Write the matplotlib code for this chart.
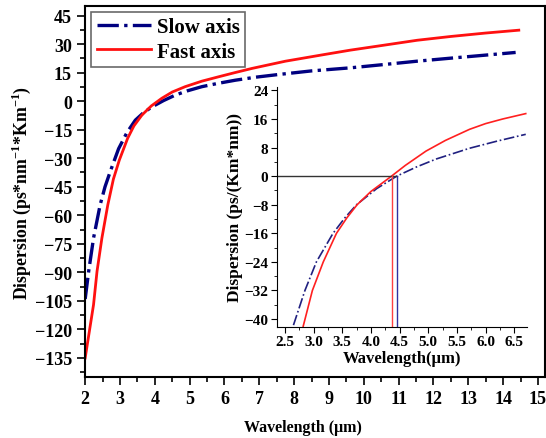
import matplotlib
matplotlib.use("Agg")
import matplotlib.pyplot as plt
from matplotlib.ticker import MultipleLocator

plt.rcParams['font.family'] = ['Liberation Serif', 'DejaVu Serif']
plt.rcParams['font.weight'] = 'bold'
plt.rcParams['mathtext.fontset'] = 'custom'
plt.rcParams['mathtext.rm'] = 'Liberation Serif:bold'
plt.rcParams['mathtext.bf'] = 'Liberation Serif:bold'

# 主图数据
fast_wl = [2.0, 2.12, 2.24, 2.34, 2.48, 2.65, 2.81, 2.98, 3.22, 3.4, 3.63, 3.9,
           4.2, 4.5, 4.87, 5.35, 5.83, 6.3, 6.79, 7.75, 8.8, 9.61, 10.5, 11.53,
           12.5, 13.5, 14.45]
fast_d = [-135, -121, -107, -89.5, -72, -54.5, -41, -31, -19.5, -13, -7.3, -2.5,
          1.5, 4.8, 7.6, 10.5, 12.8, 15, 17.2, 21, 24.3, 26.8, 29.2, 32,
          34, 35.8, 37.3]
slow_wl = [2.0, 2.1, 2.24, 2.43, 2.57, 2.72, 2.96, 3.2, 3.44, 3.68, 3.92, 4.25,
           4.59, 4.95, 5.35, 5.8, 6.31, 6.9, 7.55, 8.5, 9.61, 10.5, 11.53, 12.5,
           13.5, 14.36]
slow_d = [-104, -89.5, -72, -54.5, -45, -37, -25, -16.5, -10, -6, -3, 0.3,
          3.2, 5.5, 7.6, 9.3, 11, 12.6, 14, 15.9, 17.5, 19.1, 21, 22.6,
          24.2, 25.6]

# 插图数据
in_fast_wl = [2.82, 2.98, 3.17, 3.40, 3.58, 3.76, 4.0, 4.36, 4.6, 4.96, 5.3,
              5.72, 6.0, 6.3, 6.7]
in_fast_d = [-42, -32, -24, -16, -11.7, -8, -4.3, 0, 3.0, 7, 10, 13.1, 14.7,
             16, 17.5]
in_slow_wl = [2.65, 2.85, 3.05, 3.34, 3.55, 3.75, 4.1, 4.45, 4.8, 5.14, 5.72,
              6.2, 6.7]
in_slow_d = [-41.7, -32, -24, -16, -11.6, -8, -3.5, 0, 2.6, 4.8, 7.8, 9.8, 11.7]
zero_fast = 4.36
zero_slow = 4.45

fig = plt.figure(figsize=(5.46, 4.39), dpi=100)
ax = fig.add_axes([0.156, 0.139, 0.842, 0.845])

ax.plot(slow_wl, slow_d, color='#000080', lw=2.4, ls='-.', label='Slow axis')
ax.plot(fast_wl, fast_d, color='#ff1010', lw=2.0, ls='-', label='Fast axis')

ax.set_xlim(2, 15.2)
ax.set_ylim(-145, 50)
ax.xaxis.set_major_locator(MultipleLocator(1))
ax.xaxis.set_minor_locator(MultipleLocator(0.5))
ax.yaxis.set_major_locator(MultipleLocator(15))
ax.yaxis.set_minor_locator(MultipleLocator(7.5))
ax.tick_params(which='both', direction='out', width=1.2, labelsize=13)
ax.tick_params(which='major', length=6)
ax.tick_params(which='minor', length=3.5)
for s in ax.spines.values():
    s.set_linewidth(1.5)

ax.set_xlabel('Wavelength (μm)', fontsize=11.5, fontweight='bold')
ax.xaxis.set_label_coords(0.474, -0.112)
ax.set_ylabel(r'Dispersion (ps*nm$^{-1}$*Km$^{-1}$)', fontsize=12.8,
              fontweight='bold', labelpad=1)

leg = ax.legend(loc='upper left', handlelength=2.6, fancybox=False,
                borderaxespad=0.3, borderpad=0.25, labelspacing=0.2,
                handletextpad=0.3, prop={'weight': 'bold', 'size': 15})
leg.get_frame().set_edgecolor('#444444')
leg.get_frame().set_linewidth(1.2)

# 插图
ins = fig.add_axes([0.507, 0.253, 0.458, 0.547])
ins.plot(in_slow_wl, in_slow_d, color='#202080', lw=1.2, ls='-.')
ins.plot(in_fast_wl, in_fast_d, color='#ff2020', lw=1.2, ls='-')
ins.plot([2.3, zero_slow], [0, 0], color='#333333', lw=1.0)
ins.plot([zero_fast, zero_fast], [-43, 0], color='#ff4040', lw=1.0)
ins.plot([zero_slow, zero_slow], [-43, 0], color='#3030a0', lw=1.0)

ins.set_xlim(2.36, 6.72)
ins.set_ylim(-42.2, 25)
ins.spines['top'].set_visible(False)
ins.spines['right'].set_visible(False)
ins.patch.set_alpha(0)
ins.xaxis.set_major_locator(MultipleLocator(0.5))
ins.xaxis.set_minor_locator(MultipleLocator(0.25))
ins.yaxis.set_minor_locator(MultipleLocator(4))
ins.set_yticks(range(-40, 25, 8))
ins.tick_params(which='both', direction='out', labelsize=11, pad=2)
ins.tick_params(which='major', length=4)
ins.tick_params(which='minor', length=2.5)
ins.set_xlabel('Wavelength(μm)', fontsize=12, fontweight='bold', labelpad=1)
ins.set_ylabel('Dispersion (ps/(Km*nm))', fontsize=12.5, fontweight='bold',
               labelpad=1)

fig.savefig('out.png', dpi=100)
